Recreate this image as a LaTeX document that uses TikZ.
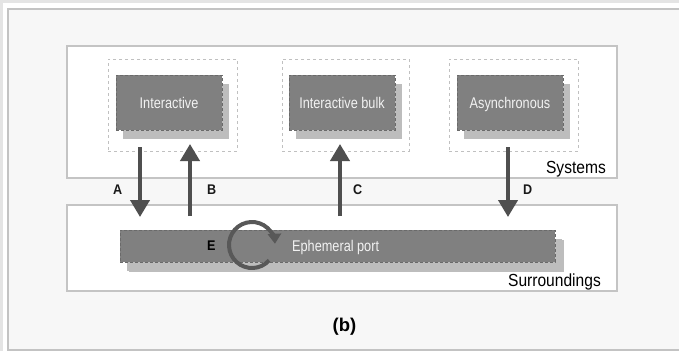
\documentclass[tikz,border=0pt]{standalone}
\usepackage{fontspec}
\setmainfont{Liberation Sans}
\newfontfamily\boxfont{Liberation Sans}[FakeStretch=0.82]
\newfontfamily\capfont{Liberation Sans}[FakeStretch=0.89]
\newfontfamily\tagfont{Liberation Sans}[FakeStretch=0.9]
\usetikzlibrary{arrows.meta,shadows}

\definecolor{pagegray}{HTML}{E4E4E4}
\definecolor{framegray}{HTML}{C3C3C3}
\definecolor{panelfill}{HTML}{F7F7F7}
\definecolor{boxline}{HTML}{C4C4C4}
\definecolor{dashline}{HTML}{C0C0C0}
\definecolor{boxfill}{HTML}{808080}
\definecolor{boxedge}{HTML}{6A6A6A}
\definecolor{shadowfill}{HTML}{BDBDBD}
\definecolor{arrowgray}{HTML}{4F4F4F}
\definecolor{textlight}{HTML}{F2F2F2}

\tikzset{
  panel/.style={draw=boxline, line width=1.2pt, fill=white, inner sep=0pt, outer sep=0pt},
  group/.style={draw=dashline, dashed, line width=0.6pt, fill=white, inner sep=0pt, outer sep=0pt},
  proc/.style={fill=boxfill, draw=boxedge, densely dashed, line width=0.5pt,
    text=textlight, font=\boxfont\fontsize{15.5}{18}\selectfont,
    text height=11.2pt, text depth=0pt, inner sep=0pt, outer sep=0pt,
    drop shadow={shadow xshift=7pt, shadow yshift=-9pt, fill=shadowfill, opacity=1, draw=none}},
  widebox/.style={proc, drop shadow={shadow xshift=9pt, shadow yshift=-10pt, fill=shadowfill, opacity=1, draw=none}},
  flow/.style={draw=arrowgray, line width=4pt, -{Triangle[width=19pt,length=17pt]}},
  cycle arrow/.style={draw=arrowgray!95!white, line width=4pt, -{Triangle[width=13pt,length=10pt]}},
  caption/.style={font=\capfont\fontsize{17.5}{20}\selectfont, text=black, inner sep=0pt},
  tag/.style={font=\tagfont\bfseries\fontsize{14}{16}\selectfont, text=black!90, inner sep=0pt},
}

\begin{document}
\begin{tikzpicture}[x=1pt, y=-1pt]
  \useasboundingbox (0,0) rectangle (679,351);
  % page background and outer frame
  \fill[pagegray] (0,0) rectangle (679,351);
  \fill[white] (3,3) rectangle (679,351);
  \draw[framegray, line width=1.2pt, fill=panelfill] (8,9) rectangle (690,350);

  % the two layers
  \node[panel, minimum width=550pt, minimum height=132pt] (sys) at (342,112) {};
  \node[panel, minimum width=550pt, minimum height=86pt] (env) at (342,248) {};

  % dashed groups
  \node[group, minimum width=129pt, minimum height=92pt] (g1) at (172.5,105) {};
  \node[group, minimum width=127pt, minimum height=92pt] (g2) at (345.5,105) {};
  \node[group, minimum width=129pt, minimum height=92pt] (g3) at (513.5,105) {};

  % process boxes
  \node[proc, minimum width=106pt, minimum height=55pt] (p1) at (169,102.5) {Interactive};
  \node[proc, minimum width=106pt, minimum height=55pt] (p2) at (342,102.5) {Interactive bulk};
  \node[proc, minimum width=106pt, minimum height=55pt] (p3) at (510,102.5) {Asynchronous};

  % ephemeral port bar
  \node[widebox, minimum width=435pt, minimum height=32pt] (eph) at (337.5,246) {};
  \node[anchor=base west, inner sep=0pt, text=textlight,
        font=\boxfont\fontsize{15.5}{18}\selectfont] (ephlbl) at (292,251.7) {Ephemeral port};

  % layer captions
  \node[caption, anchor=base east] (syslbl) at (606,173) {Systems};
  \node[caption, anchor=base east] (envlbl) at (601,286) {Surroundings};

  % flows between the layers
  \coordinate (aS) at (140,147);  \coordinate (aE) at (140,217);
  \coordinate (bS) at (190,216);  \coordinate (bE) at (190,144);
  \coordinate (cS) at (340,216);  \coordinate (cE) at (340,144);
  \coordinate (dS) at (508,147);  \coordinate (dE) at (508,217);
  \draw[flow] (aS) -- (aE);
  \draw[flow] (bS) -- (bE);
  \draw[flow] (cS) -- (cE);
  \draw[flow] (dS) -- (dE);

  \node[tag, anchor=base west] (la) at (113,194) {A};
  \node[tag, anchor=base west] (lb) at (207,194) {B};
  \node[tag, anchor=base west] (lc) at (353,194) {C};
  \node[tag, anchor=base west] (ld) at (523,194) {D};

  % recycling loop on the port bar
  \coordinate (loop) at (252,245);
  \draw[cycle arrow] (loop) ++(42:23) arc[start angle=42, end angle=357, radius=23];
  \node[tag, anchor=base west, text=black] (le) at (207,250) {E};

  % subfigure caption
  \node[font=\bfseries\fontsize{18.5}{21}\selectfont, anchor=base, inner sep=0pt] (sub) at (344.5,331.7) {(b)};
\end{tikzpicture}
\end{document}
